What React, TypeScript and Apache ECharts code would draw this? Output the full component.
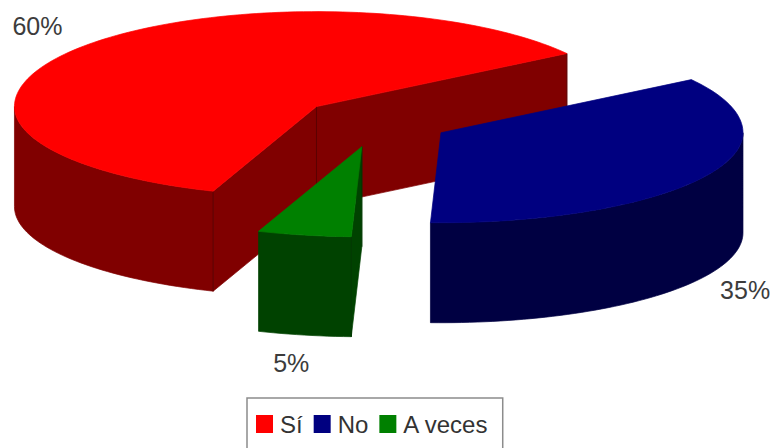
import React, { useEffect, useRef } from "react";
import * as echarts from "echarts";

const categories = ["Sí", "No", "A veces"];
const values = [60, 35, 5];
const topColors = ["#ff0000", "#000080", "#008000"];
const wallColors = ["#800000", "#000042", "#004200"];
const edgeColors = ["#5a0000", "#000042", "#003800"];
const labelOffsets = [
  [-41, -22],
  [40, 114],
  [-13, 128],
];
const sliceNudges = [
  [0, 0],
  [1, 1],
  [1, 4],
];
const drawOrder = [0, 2, 1];

const START_DEG = 200;
const CX = 375;
const CY = 121;
const RX = 302;
const RY_BACK = 95;
const RY_FRONT = 90;
const DEPTH = 100;
const EXPLODE = 0.246;

const rad = (d: number) => (d * Math.PI) / 180;
const rim = (deg: number): [number, number] => {
  const c = Math.cos(rad(deg));
  const ry = c > 0 ? RY_BACK : RY_FRONT;
  return [RX * Math.sin(rad(deg)), -ry * c];
};

function sliceAngles(i: number) {
  const total = values.reduce((a, b) => a + b, 0);
  const before = values.slice(0, i).reduce((a, b) => a + b, 0);
  const a0 = START_DEG + (before / total) * 360;
  const a1 = a0 + (values[i] / total) * 360;
  return [a0, a1];
}

function polygon(points: number[][], fill: string, stroke: string, z2: number) {
  return {
    type: "polygon",
    z2,
    shape: { points },
    style: { fill, stroke, lineWidth: 0.7 },
    silent: true,
  };
}

function renderSlice(params: any, api: any) {
  const i = drawOrder[params.seriesIndex];
  const [a0, a1] = sliceAngles(i);
  const mid = (a0 + a1) / 2;
  const [ox, oy] = rim(mid);
  const ax = CX + ox * EXPLODE + sliceNudges[i][0];
  const ay = CY + oy * EXPLODE + sliceNudges[i][1];
  const pt = (deg: number, drop = 0) => {
    const [x, y] = rim(deg);
    return [ax + x, ay + y + drop];
  };
  const arc = (from: number, to: number, drop = 0) => {
    const out: number[][] = [];
    const n = Math.max(2, Math.ceil(Math.abs(to - from) / 1.5));
    for (let k = 0; k <= n; k++) out.push(pt(from + ((to - from) * k) / n, drop));
    return out;
  };
  const children: any[] = [];
  const top = topColors[i];
  const wall = wallColors[i];
  const edge = edgeColors[i];
  const face = (deg: number) => {
    const p = pt(deg);
    const q = pt(deg, DEPTH);
    children.push(
      polygon([[ax, ay], p, q, [ax, ay + DEPTH]], wall, wall, 1),
      {
        type: "line",
        z2: 2,
        silent: true,
        shape: { x1: p[0], y1: p[1], x2: q[0], y2: q[1] },
        style: { stroke: edge, lineWidth: 1 },
      },
    );
  };
  const norm = (d: number) => ((d % 360) + 360) % 360;
  const startNormal = norm(a0 - 90);
  const endNormal = norm(a1 + 90);
  const faces = (n: number) => n > 90 && n < 270;
  if (faces(startNormal) || i === 2) face(a0);
  if (faces(endNormal)) face(a1);
  if (faces(startNormal) || faces(endNormal)) {
    children.push({
      type: "line",
      z2: 2,
      silent: true,
      shape: { x1: ax, y1: ay, x2: ax, y2: ay + DEPTH },
      style: { stroke: edge, lineWidth: 1 },
    });
  }
  for (const base of [0, 360]) {
    const from = Math.max(a0, 90 + base);
    const to = Math.min(a1, 270 + base);
    if (to > from) {
      const upper = arc(from, to);
      const lower = arc(to, from, DEPTH);
      children.push(polygon([...upper, ...lower], wall, wall, 1));
    }
  }
  children.push(polygon([[ax, ay], ...arc(a0, a1)], top, top, 3));
  const anchor = pt(mid);
  children.push({
    type: "text",
    z2: 4,
    silent: true,
    x: anchor[0] + labelOffsets[i][0],
    y: anchor[1] + labelOffsets[i][1],
    style: {
      text: `${values[i]}%`,
      fill: "#3c3c3c",
      font: '25px "Liberation Sans", Arial, sans-serif',
      align: "center",
      verticalAlign: "middle",
    },
  });
  return { type: "group", children };
}

export default function App() {
  const ref = useRef<HTMLDivElement>(null);
  useEffect(() => {
    if (!ref.current) return;
    const chart = echarts.init(ref.current, undefined, { renderer: "svg" });
    chart.setOption({
      animation: false,
      backgroundColor: "#ffffff",
      legend: {
        data: categories,
        left: 247,
        top: 398,
        orient: "horizontal",
        icon: "rect",
        itemWidth: 17,
        itemHeight: 18,
        itemGap: 11,
        padding: [14, 14, 30, 9],
        borderColor: "#8c8c8c",
        borderWidth: 1.5,
        selectedMode: false,
        textStyle: {
          fontFamily: '"Liberation Sans", Arial, sans-serif',
          fontSize: 24,
          color: "#333333",
          padding: [0, 0, 0, 2],
        },
      },
      series: drawOrder.map((i) => ({
        type: "custom",
        name: categories[i],
        coordinateSystem: "none",
        itemStyle: { color: topColors[i] },
        data: [values[i]],
        renderItem: renderSlice,
      })),
    });
    return () => chart.dispose();
  }, []);
  return (
    <div
      ref={ref}
      style={{ position: "fixed", left: 0, top: 0, width: 773, height: 448 }}
    />
  );
}
